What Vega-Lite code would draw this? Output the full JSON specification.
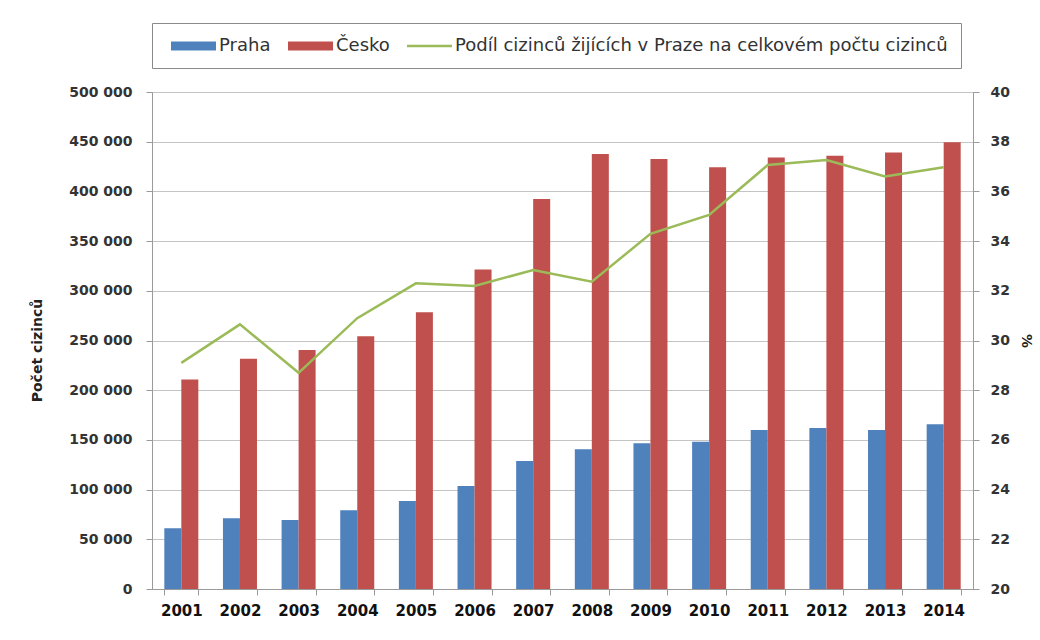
{
  "$schema": "https://vega.github.io/schema/vega-lite/v6.json",
  "width": 821,
  "height": 497,
  "autosize": {"type": "none"},
  "padding": {"left": 152, "top": 92, "right": 67, "bottom": 51},
  "background": "white",
  "config": {
    "view": {"stroke": "#a6a6a6", "strokeWidth": 1},
    "axis": {"domainColor": "#9a9a9a", "tickColor": "#9a9a9a", "gridColor": "#c4c4c4"}
  },
  "datasets": {
    "bars": [
      {"rok": "2001", "serie": "Praha", "pocet": 61000},
      {"rok": "2001", "serie": "Česko", "pocet": 210794},
      {"rok": "2002", "serie": "Praha", "pocet": 71100},
      {"rok": "2002", "serie": "Česko", "pocet": 231608},
      {"rok": "2003", "serie": "Praha", "pocet": 69400},
      {"rok": "2003", "serie": "Česko", "pocet": 240421},
      {"rok": "2004", "serie": "Praha", "pocet": 79200},
      {"rok": "2004", "serie": "Česko", "pocet": 254294},
      {"rok": "2005", "serie": "Praha", "pocet": 88500},
      {"rok": "2005", "serie": "Česko", "pocet": 278312},
      {"rok": "2006", "serie": "Praha", "pocet": 103600},
      {"rok": "2006", "serie": "Česko", "pocet": 321456},
      {"rok": "2007", "serie": "Praha", "pocet": 128800},
      {"rok": "2007", "serie": "Česko", "pocet": 392315},
      {"rok": "2008", "serie": "Praha", "pocet": 140500},
      {"rok": "2008", "serie": "Česko", "pocet": 437565},
      {"rok": "2009", "serie": "Praha", "pocet": 146600},
      {"rok": "2009", "serie": "Česko", "pocet": 432503},
      {"rok": "2010", "serie": "Praha", "pocet": 148200},
      {"rok": "2010", "serie": "Česko", "pocet": 424291},
      {"rok": "2011", "serie": "Praha", "pocet": 160000},
      {"rok": "2011", "serie": "Česko", "pocet": 434153},
      {"rok": "2012", "serie": "Praha", "pocet": 162000},
      {"rok": "2012", "serie": "Česko", "pocet": 435946},
      {"rok": "2013", "serie": "Praha", "pocet": 160000},
      {"rok": "2013", "serie": "Česko", "pocet": 439189},
      {"rok": "2014", "serie": "Praha", "pocet": 165700},
      {"rok": "2014", "serie": "Česko", "pocet": 449367}
    ],
    "podil": [
      {"rok": "2001", "procento": 29.1},
      {"rok": "2002", "procento": 30.65},
      {"rok": "2003", "procento": 28.7},
      {"rok": "2004", "procento": 30.9},
      {"rok": "2005", "procento": 32.3},
      {"rok": "2006", "procento": 32.19},
      {"rok": "2007", "procento": 32.84},
      {"rok": "2008", "procento": 32.37},
      {"rok": "2009", "procento": 34.29},
      {"rok": "2010", "procento": 35.05},
      {"rok": "2011", "procento": 37.06},
      {"rok": "2012", "procento": 37.26},
      {"rok": "2013", "procento": 36.6},
      {"rok": "2014", "procento": 36.97}
    ]
  },
  "layer": [
    {
      "data": {"name": "bars"},
      "mark": {"type": "bar"},
      "encoding": {
        "x": {
          "field": "rok", "type": "nominal",
          "scale": {"paddingInner": 0.42, "paddingOuter": 0.21},
          "axis": {
            "title": null, "labelAngle": 0, "tickBand": "extent", "tickSize": 6,
            "labelFont": "DejaVu Sans", "labelFontWeight": "bold", "labelFontSize": 15,
            "labelColor": "#111", "labelPadding": 8, "grid": false
          }
        },
        "xOffset": {"field": "serie", "type": "nominal", "sort": ["Praha", "Česko"]},
        "y": {
          "field": "pocet", "type": "quantitative",
          "scale": {"domain": [0, 500000]},
          "axis": {
            "orient": "left", "title": "Počet cizinců",
            "values": [0, 50000, 100000, 150000, 200000, 250000, 300000, 350000, 400000, 450000, 500000],
            "labelExpr": "replace(format(datum.value, ','), ',', ' ')",
            "grid": true, "tickSize": 6, "labelPadding": 14,
            "labelFont": "DejaVu Sans", "labelFontWeight": "bold", "labelFontSize": 14, "labelColor": "#333",
            "titleFont": "DejaVu Sans", "titleFontWeight": "bold", "titleFontSize": 14, "titleColor": "#222",
            "titlePadding": 24, "titleY": 258
          }
        },
        "color": {
          "field": "serie", "type": "nominal",
          "scale": {
            "domain": ["Praha", "Česko", "Podíl cizinců žijících v Praze na celkovém počtu cizinců"],
            "range": ["#4F81BD", "#C0504D", "#9BBB59"]
          },
          "legend": {
            "orient": "top", "direction": "horizontal", "title": null,
            "offset": 24, "padding": 13, "strokeColor": "#8a8a8a",
            "labelFont": "DejaVu Sans", "labelFontSize": 18, "labelColor": "#333",
            "labelOffset": 34, "columnPadding": 11, "symbolSize": 400,
            "labelLimit": 800,
            "encode": {
              "symbols": {
                "update": {
                  "shape": [
                    {"test": "datum.value === 'Podíl cizinců žijících v Praze na celkovém počtu cizinců'", "value": "M-0.4,-0.13H4.1V0.13H-0.4Z"},
                    {"value": "M-0.4,-0.45H4.1V0.45H-0.4Z"}
                  ],
                  "fill": [
                    {"test": "datum.value === 'Praha'", "value": "#4F81BD"},
                    {"test": "datum.value === 'Česko'", "value": "#C0504D"},
                    {"value": "#9BBB59"}
                  ],
                  "stroke": {"value": "transparent"},
                  "strokeWidth": {"value": 0},
                  "opacity": {"value": 1},
                  "fillOpacity": {"value": 1}
                }
              }
            }
          }
        }
      }
    },
    {
      "data": {"name": "podil"},
      "mark": {"type": "line", "strokeWidth": 2.5},
      "encoding": {
        "x": {"field": "rok", "type": "nominal"},
        "y": {
          "field": "procento", "type": "quantitative",
          "scale": {"domain": [20, 40]},
          "axis": {
            "orient": "right", "title": "%",
            "values": [20, 22, 24, 26, 28, 30, 32, 34, 36, 38, 40],
            "grid": false, "tickSize": 6, "labelPadding": 11,
            "labelFont": "DejaVu Sans", "labelFontWeight": "bold", "labelFontSize": 14, "labelColor": "#333",
            "titleFont": "DejaVu Sans", "titleFontWeight": "bold", "titleFontSize": 14, "titleColor": "#222",
            "titlePadding": 9
          }
        },
        "color": {"datum": "Podíl cizinců žijících v Praze na celkovém počtu cizinců"}
      }
    }
  ],
  "resolve": {"scale": {"y": "independent"}}
}
